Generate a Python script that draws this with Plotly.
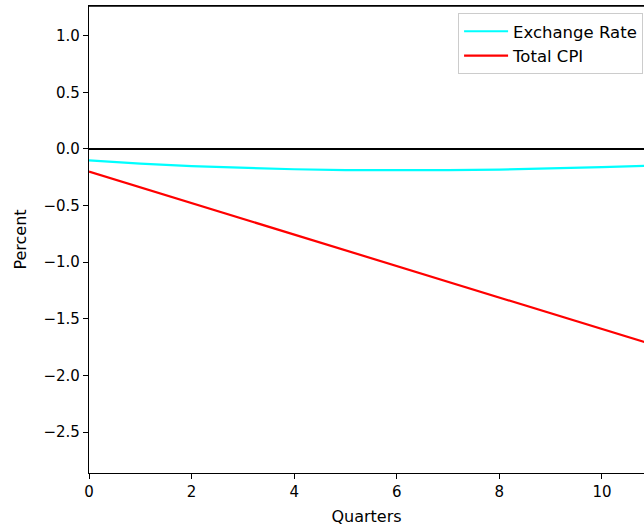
import plotly.graph_objects as go

quarters = [0, 1, 2, 3, 4, 5, 6, 7, 8, 9, 10, 11]
exchange_rate = [-0.10, -0.13, -0.152, -0.168, -0.179, -0.186, -0.189, -0.187, -0.182, -0.173, -0.161, -0.147]
total_cpi = [-0.20, -0.339, -0.478, -0.617, -0.756, -0.895, -1.034, -1.173, -1.312, -1.451, -1.590, -1.729]
x_ticks = [0, 2, 4, 6, 8, 10]
y_ticks = [-2.5, -2.0, -1.5, -1.0, -0.5, 0.0, 0.5, 1.0]
y_tick_labels = ["\u22122.5", "\u22122.0", "\u22121.5", "\u22121.0", "\u22120.5", "0.0", "0.5", "1.0"]

fig = go.Figure()
fig.add_trace(go.Scatter(x=quarters, y=exchange_rate, mode="lines", name="Exchange Rate",
                         line=dict(color="#00FFFF", width=2.2)))
fig.add_trace(go.Scatter(x=quarters, y=total_cpi, mode="lines", name="Total CPI",
                         line=dict(color="#FF0000", width=2.2)))
fig.add_hline(y=0, line=dict(color="black", width=2.2))
# top spine
fig.add_shape(type="line", xref="paper", yref="paper", x0=0, x1=1.01, y0=1, y1=1,
              line=dict(color="black", width=1.6), layer="above")

fig.update_layout(
    width=644, height=529,
    margin=dict(l=89, r=0, t=6, b=56, autoexpand=False),
    plot_bgcolor="white", paper_bgcolor="white",
    font=dict(family="DejaVu Sans", size=15, color="black"),
    showlegend=True,
    legend=dict(x=0.665, y=0.985, xanchor="left", yanchor="top",
                bgcolor="rgba(255,255,255,0.8)", bordercolor="#cccccc", borderwidth=1,
                font=dict(size=16.5), itemwidth=44),
)
fig.update_xaxes(range=[0, 10.82], tickvals=x_ticks, ticks="outside", ticklen=5, tickwidth=1,
                 tickcolor="black", showline=True, linecolor="black", linewidth=1.2, mirror=True,
                 showgrid=False, zeroline=False, automargin=False, tickfont=dict(size=15),
                 title=dict(text="Quarters", standoff=10, font=dict(size=16)))
fig.update_yaxes(range=[-2.862, 1.263], tickvals=y_ticks, ticktext=y_tick_labels, ticks="outside",
                 ticklen=5, tickwidth=1, tickcolor="black", showline=True, linecolor="black",
                 linewidth=1.2, mirror=False, showgrid=False, zeroline=False, automargin=False,
                 tickfont=dict(size=15),
                 title=dict(text="Percent", standoff=12, font=dict(size=16)))

fig.write_html("out.html", config={"displayModeBar": False},
               post_script="document.body.style.margin='0';document.body.style.overflow='hidden';")
